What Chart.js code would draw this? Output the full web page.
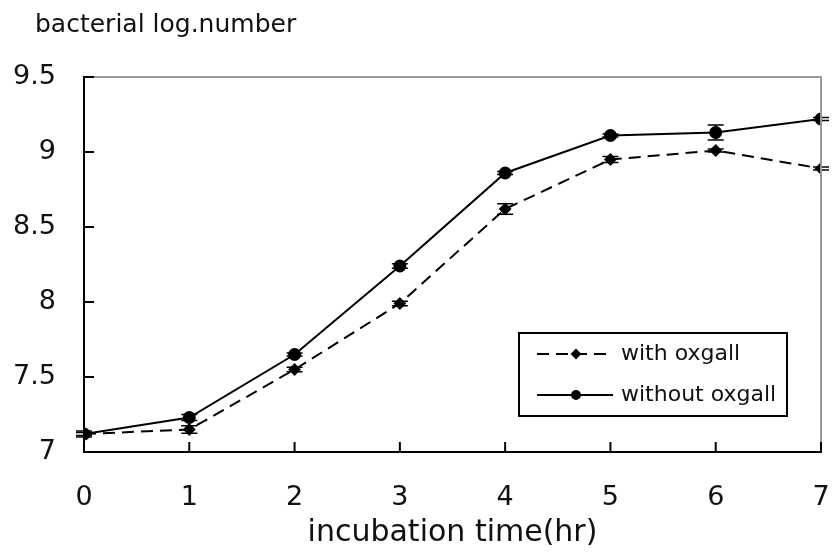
<!DOCTYPE html>
<html>
<head>
<meta charset="utf-8">
<script src="https://cdn.jsdelivr.net/npm/chart.js@4.4.1/dist/chart.umd.min.js"></script>
<style>
  html, body { margin: 0; padding: 0; background: #fff; }
  #wrap { width: 834px; height: 554px; }
</style>
</head>
<body>
<div id="wrap"><canvas id="growthChart" width="834" height="554"></canvas></div>
<script>
// data
const hours = [0, 1, 2, 3, 4, 5, 6, 7];
const withOxgall = [7.12, 7.15, 7.55, 7.99, 8.62, 8.95, 9.01, 8.89];
const withOxgallErr = [0.02, 0.025, 0.015, 0.015, 0.035, 0.02, 0.01, 0.01];
const withoutOxgall = [7.12, 7.23, 7.65, 8.24, 8.86, 9.11, 9.13, 9.22];
const withoutOxgallErr = [0.01, 0.02, 0.01, 0.015, 0.01, 0.01, 0.05, 0.01];
const yTicks = [7, 7.5, 8, 8.5, 9, 9.5];

const FONT = 'DejaVu Sans';

function toPoints(values) {
    return hours.map((h, i) => ({ x: h, y: values[i] }));
}

// inward ticks, grey top/right frame, y label
const framePlugin = {
    id: 'frame',
    afterDraw(chart) {
        const { ctx, chartArea: a, scales: { x, y } } = chart;
        ctx.save();
        ctx.strokeStyle = '#999';
        ctx.lineWidth = 2;
        ctx.beginPath();
        ctx.moveTo(a.left, a.top);
        ctx.lineTo(a.right, a.top);
        ctx.lineTo(a.right, a.bottom);
        ctx.stroke();

        ctx.strokeStyle = '#000';
        ctx.lineWidth = 2;
        ctx.beginPath();
        yTicks.forEach(v => {
            const py = y.getPixelForValue(v);
            ctx.moveTo(a.left, py);
            ctx.lineTo(a.left + 10, py);
        });
        hours.forEach(h => {
            const px = x.getPixelForValue(h);
            ctx.moveTo(px, a.bottom);
            ctx.lineTo(px, a.bottom - 10);
        });
        ctx.stroke();

        ctx.fillStyle = '#111';
        ctx.font = '25px "' + FONT + '"';
        ctx.textBaseline = 'middle';
        ctx.textAlign = 'left';
        ctx.fillText('bacterial log.number', 35, 25);
        ctx.restore();
    }
};

// error bars
const errorBarPlugin = {
    id: 'errorBars',
    afterDatasetsDraw(chart) {
        const { ctx, scales: { x, y } } = chart;
        const errs = [withOxgallErr, withoutOxgallErr];
        ctx.save();
        ctx.strokeStyle = '#000';
        ctx.lineWidth = 1.5;
        chart.data.datasets.forEach((ds, d) => {
            ds.data.forEach((p, i) => {
                const e = errs[d][i];
                const px = x.getPixelForValue(p.x);
                const top = y.getPixelForValue(p.y + e);
                const bot = y.getPixelForValue(p.y - e);
                ctx.beginPath();
                ctx.moveTo(px, top); ctx.lineTo(px, bot);
                ctx.moveTo(px - 8, top); ctx.lineTo(px + 8, top);
                ctx.moveTo(px - 8, bot); ctx.lineTo(px + 8, bot);
                ctx.stroke();
            });
        });
        ctx.restore();
    }
};

// boxed legend inside the plot
const boxLegendPlugin = {
    id: 'boxLegend',
    afterDraw(chart) {
        const { ctx } = chart;
        const box = { left: 519, top: 333, width: 268, height: 83 };
        ctx.save();
        ctx.fillStyle = '#fff';
        ctx.fillRect(box.left, box.top, box.width, box.height);
        ctx.strokeStyle = '#000';
        ctx.lineWidth = 2;
        ctx.strokeRect(box.left, box.top, box.width, box.height);

        const rows = [354, 395];
        chart.data.datasets.forEach((ds, i) => {
            const yy = rows[i];
            ctx.strokeStyle = '#000';
            ctx.lineWidth = 2;
            ctx.setLineDash(ds.borderDash || []);
            ctx.beginPath();
            ctx.moveTo(537, yy);
            ctx.lineTo(613, yy);
            ctx.stroke();
            ctx.setLineDash([]);
            ctx.fillStyle = '#000';
            Chart.helpers.drawPoint(ctx, {
                pointStyle: ds.pointStyle, radius: 4, rotation: 0, borderWidth: 1
            }, 576, yy);
            ctx.fillStyle = '#111';
            ctx.font = '22px "' + FONT + '"';
            ctx.textBaseline = 'middle';
            ctx.textAlign = 'left';
            ctx.fillText(ds.label, 621, yy);
        });
        ctx.restore();
    }
};

Chart.defaults.color = '#111';
Chart.defaults.font.family = FONT;

new Chart(document.getElementById('growthChart'), {
    type: 'line',
    data: {
        datasets: [{
            label: 'with oxgall',
            data: toPoints(withOxgall),
            borderColor: '#000',
            backgroundColor: '#000',
            borderWidth: 2,
            borderDash: [12, 7],
            pointStyle: 'rectRot',
            pointRadius: 5,
            tension: 0
        }, {
            label: 'without oxgall',
            data: toPoints(withoutOxgall),
            borderColor: '#000',
            backgroundColor: '#000',
            borderWidth: 2,
            pointStyle: 'circle',
            pointRadius: 5.5,
            tension: 0
        }]
    },
    options: {
        responsive: false,
        animation: false,
        layout: { padding: { top: 77, right: 13, left: 0, bottom: 0 } },
        scales: {
            x: {
                type: 'linear',
                min: 0,
                max: 7,
                afterFit(scale) {
                    scale.height = 102;
                    scale.paddingLeft = 0;
                    scale.paddingRight = 0;
                },
                ticks: { stepSize: 1, padding: 30, font: { size: 27 }, color: '#111' },
                grid: { display: false, drawTicks: false },
                border: { display: true, color: '#000', width: 2 },
                title: {
                    display: true,
                    text: 'incubation time(hr)',
                    font: { size: 30 },
                    color: '#111',
                    padding: { top: 0, bottom: 3 }
                }
            },
            y: {
                min: 7,
                max: 9.5,
                afterFit(scale) { scale.width = 84; },
                afterBuildTicks(scale) { scale.ticks = yTicks.map(v => ({ value: v })); },
                ticks: { padding: 28, font: { size: 27 }, color: '#111', callback: v => String(v) },
                grid: { display: false, drawTicks: false },
                border: { display: true, color: '#000', width: 2 }
            }
        },
        plugins: {
            legend: { display: false },
            tooltip: { enabled: false }
        }
    },
    plugins: [framePlugin, errorBarPlugin, boxLegendPlugin]
});
</script>
</body>
</html>
